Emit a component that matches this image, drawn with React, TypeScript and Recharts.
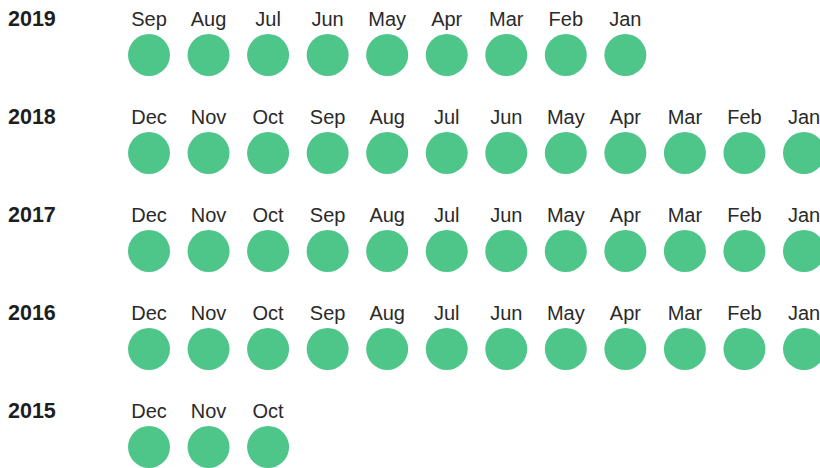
import { Scatter, ScatterChart, XAxis, YAxis } from 'recharts'

const YEARS = ['2019', '2018', '2017', '2016', '2015']
const MONTHS_2019 = ['Sep', 'Aug', 'Jul', 'Jun', 'May', 'Apr', 'Mar', 'Feb', 'Jan']
const MONTHS_2018 = ['Dec', 'Nov', 'Oct', 'Sep', 'Aug', 'Jul', 'Jun', 'May', 'Apr', 'Mar', 'Feb', 'Jan']
const MONTHS_2017 = ['Dec', 'Nov', 'Oct', 'Sep', 'Aug', 'Jul', 'Jun', 'May', 'Apr', 'Mar', 'Feb', 'Jan']
const MONTHS_2016 = ['Dec', 'Nov', 'Oct', 'Sep', 'Aug', 'Jul', 'Jun', 'May', 'Apr', 'Mar', 'Feb', 'Jan']
const MONTHS_2015 = ['Dec', 'Nov', 'Oct']

const MONTHS_BY_ROW = [MONTHS_2019, MONTHS_2018, MONTHS_2017, MONTHS_2016, MONTHS_2015]

type Cell = { col: number; row: number; month: string }

const cells: Cell[] = MONTHS_BY_ROW.flatMap((months, row) =>
  months.map((month, col) => ({ col, row, month })),
)

const FONT = 'Arial, "Liberation Sans", sans-serif'
const DOT_COLOR = '#4ec689'

const renderCell = (props: { cx?: number; cy?: number; payload?: Cell }) => {
  const { cx, cy, payload } = props
  if (typeof cx !== 'number' || typeof cy !== 'number' || !payload) return <g />
  return (
    <g>
      <text x={cx} y={cy - 29} textAnchor="middle" fontFamily={FONT} fontSize={20} fill="#2a2a2a">
        {payload.month}
      </text>
      <circle cx={cx} cy={cy} r={21} fill={DOT_COLOR} />
    </g>
  )
}

const renderYearTick = (props: { y?: number; payload?: { value: number } }) => {
  const { y, payload } = props
  if (typeof y !== 'number' || !payload) return <g />
  return (
    <text x={8} y={y - 29} fontFamily={FONT} fontSize={21.5} fontWeight={700} fill="#1e1e1e">
      {YEARS[payload.value]}
    </text>
  )
}

export default function App() {
  return (
    <div style={{ position: 'absolute', left: 0, top: 0, width: 820, height: 468, background: '#fff' }}>
      <ScatterChart width={820} height={468} margin={{ top: 55, right: 16, bottom: 21, left: 0 }}>
        <XAxis type="number" dataKey="col" domain={[0, 11]} hide />
        <YAxis
          type="number"
          dataKey="row"
          domain={[0, 4]}
          reversed
          ticks={[0, 1, 2, 3, 4]}
          width={149}
          axisLine={false}
          tickLine={false}
          tick={renderYearTick}
          interval={0}
        />
        <Scatter data={cells} shape={renderCell} isAnimationActive={false} />
      </ScatterChart>
    </div>
  )
}
